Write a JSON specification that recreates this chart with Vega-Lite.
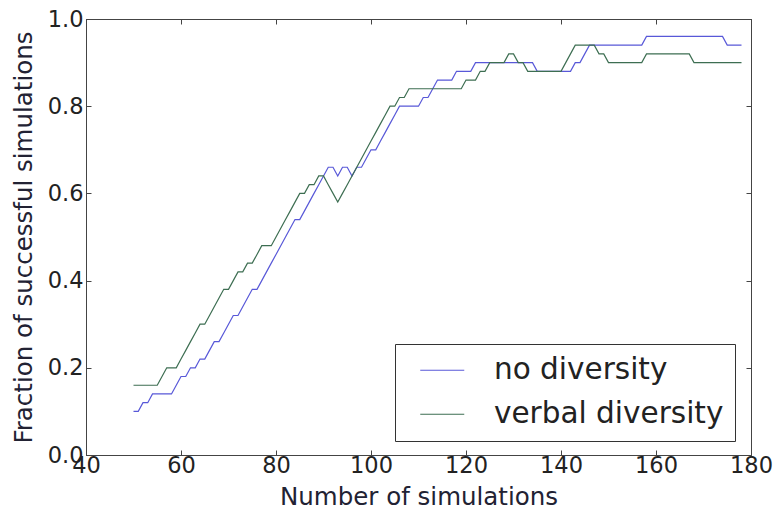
{
  "$schema": "https://vega.github.io/schema/vega-lite/v6.json",
  "width": 665,
  "height": 436,
  "autosize": "none",
  "padding": {"left": 86, "top": 19, "right": 30, "bottom": 55},
  "background": "white",
  "config": {
    "font": "DejaVu Sans",
    "view": {"stroke": "#444444", "strokeWidth": 1},
    "axis": {
      "grid": false,
      "domainColor": "#444444",
      "domainWidth": 1,
      "tickColor": "#444444",
      "tickSize": -5,
      "tickWidth": 1,
      "labelFont": "DejaVu Sans",
      "labelFontSize": 22.5,
      "labelColor": "#222222",
      "titleFont": "DejaVu Sans",
      "titleFontSize": 24.5,
      "titleFontWeight": "normal",
      "titleColor": "#222233"
    }
  },
  "data": {
    "values": [
      {"n": 50, "no diversity": 0.10, "verbal diversity": 0.16},
      {"n": 51, "no diversity": 0.10, "verbal diversity": 0.16},
      {"n": 52, "no diversity": 0.12, "verbal diversity": 0.16},
      {"n": 53, "no diversity": 0.12, "verbal diversity": 0.16},
      {"n": 54, "no diversity": 0.14, "verbal diversity": 0.16},
      {"n": 55, "no diversity": 0.14, "verbal diversity": 0.16},
      {"n": 56, "no diversity": 0.14, "verbal diversity": 0.18},
      {"n": 57, "no diversity": 0.14, "verbal diversity": 0.20},
      {"n": 58, "no diversity": 0.14, "verbal diversity": 0.20},
      {"n": 59, "no diversity": 0.16, "verbal diversity": 0.20},
      {"n": 60, "no diversity": 0.18, "verbal diversity": 0.22},
      {"n": 61, "no diversity": 0.18, "verbal diversity": 0.24},
      {"n": 62, "no diversity": 0.20, "verbal diversity": 0.26},
      {"n": 63, "no diversity": 0.20, "verbal diversity": 0.28},
      {"n": 64, "no diversity": 0.22, "verbal diversity": 0.30},
      {"n": 65, "no diversity": 0.22, "verbal diversity": 0.30},
      {"n": 66, "no diversity": 0.24, "verbal diversity": 0.32},
      {"n": 67, "no diversity": 0.26, "verbal diversity": 0.34},
      {"n": 68, "no diversity": 0.26, "verbal diversity": 0.36},
      {"n": 69, "no diversity": 0.28, "verbal diversity": 0.38},
      {"n": 70, "no diversity": 0.30, "verbal diversity": 0.38},
      {"n": 71, "no diversity": 0.32, "verbal diversity": 0.40},
      {"n": 72, "no diversity": 0.32, "verbal diversity": 0.42},
      {"n": 73, "no diversity": 0.34, "verbal diversity": 0.42},
      {"n": 74, "no diversity": 0.36, "verbal diversity": 0.44},
      {"n": 75, "no diversity": 0.38, "verbal diversity": 0.44},
      {"n": 76, "no diversity": 0.38, "verbal diversity": 0.46},
      {"n": 77, "no diversity": 0.40, "verbal diversity": 0.48},
      {"n": 78, "no diversity": 0.42, "verbal diversity": 0.48},
      {"n": 79, "no diversity": 0.44, "verbal diversity": 0.48},
      {"n": 80, "no diversity": 0.46, "verbal diversity": 0.50},
      {"n": 81, "no diversity": 0.48, "verbal diversity": 0.52},
      {"n": 82, "no diversity": 0.50, "verbal diversity": 0.54},
      {"n": 83, "no diversity": 0.52, "verbal diversity": 0.56},
      {"n": 84, "no diversity": 0.54, "verbal diversity": 0.58},
      {"n": 85, "no diversity": 0.54, "verbal diversity": 0.60},
      {"n": 86, "no diversity": 0.56, "verbal diversity": 0.60},
      {"n": 87, "no diversity": 0.58, "verbal diversity": 0.62},
      {"n": 88, "no diversity": 0.60, "verbal diversity": 0.62},
      {"n": 89, "no diversity": 0.62, "verbal diversity": 0.64},
      {"n": 90, "no diversity": 0.64, "verbal diversity": 0.64},
      {"n": 91, "no diversity": 0.66, "verbal diversity": 0.62},
      {"n": 92, "no diversity": 0.66, "verbal diversity": 0.60},
      {"n": 93, "no diversity": 0.64, "verbal diversity": 0.58},
      {"n": 94, "no diversity": 0.66, "verbal diversity": 0.60},
      {"n": 95, "no diversity": 0.66, "verbal diversity": 0.62},
      {"n": 96, "no diversity": 0.64, "verbal diversity": 0.64},
      {"n": 97, "no diversity": 0.66, "verbal diversity": 0.66},
      {"n": 98, "no diversity": 0.66, "verbal diversity": 0.68},
      {"n": 99, "no diversity": 0.68, "verbal diversity": 0.70},
      {"n": 100, "no diversity": 0.70, "verbal diversity": 0.72},
      {"n": 101, "no diversity": 0.70, "verbal diversity": 0.74},
      {"n": 102, "no diversity": 0.72, "verbal diversity": 0.76},
      {"n": 103, "no diversity": 0.74, "verbal diversity": 0.78},
      {"n": 104, "no diversity": 0.76, "verbal diversity": 0.80},
      {"n": 105, "no diversity": 0.78, "verbal diversity": 0.80},
      {"n": 106, "no diversity": 0.80, "verbal diversity": 0.82},
      {"n": 107, "no diversity": 0.80, "verbal diversity": 0.82},
      {"n": 108, "no diversity": 0.80, "verbal diversity": 0.84},
      {"n": 109, "no diversity": 0.80, "verbal diversity": 0.84},
      {"n": 110, "no diversity": 0.80, "verbal diversity": 0.84},
      {"n": 111, "no diversity": 0.82, "verbal diversity": 0.84},
      {"n": 112, "no diversity": 0.82, "verbal diversity": 0.84},
      {"n": 113, "no diversity": 0.84, "verbal diversity": 0.84},
      {"n": 114, "no diversity": 0.86, "verbal diversity": 0.84},
      {"n": 115, "no diversity": 0.86, "verbal diversity": 0.84},
      {"n": 116, "no diversity": 0.86, "verbal diversity": 0.84},
      {"n": 117, "no diversity": 0.86, "verbal diversity": 0.84},
      {"n": 118, "no diversity": 0.88, "verbal diversity": 0.84},
      {"n": 119, "no diversity": 0.88, "verbal diversity": 0.84},
      {"n": 120, "no diversity": 0.88, "verbal diversity": 0.86},
      {"n": 121, "no diversity": 0.88, "verbal diversity": 0.86},
      {"n": 122, "no diversity": 0.90, "verbal diversity": 0.86},
      {"n": 123, "no diversity": 0.90, "verbal diversity": 0.88},
      {"n": 124, "no diversity": 0.90, "verbal diversity": 0.88},
      {"n": 125, "no diversity": 0.90, "verbal diversity": 0.90},
      {"n": 126, "no diversity": 0.90, "verbal diversity": 0.90},
      {"n": 127, "no diversity": 0.90, "verbal diversity": 0.90},
      {"n": 128, "no diversity": 0.90, "verbal diversity": 0.90},
      {"n": 129, "no diversity": 0.90, "verbal diversity": 0.92},
      {"n": 130, "no diversity": 0.90, "verbal diversity": 0.92},
      {"n": 131, "no diversity": 0.90, "verbal diversity": 0.90},
      {"n": 132, "no diversity": 0.90, "verbal diversity": 0.90},
      {"n": 133, "no diversity": 0.90, "verbal diversity": 0.88},
      {"n": 134, "no diversity": 0.90, "verbal diversity": 0.88},
      {"n": 135, "no diversity": 0.88, "verbal diversity": 0.88},
      {"n": 136, "no diversity": 0.88, "verbal diversity": 0.88},
      {"n": 137, "no diversity": 0.88, "verbal diversity": 0.88},
      {"n": 138, "no diversity": 0.88, "verbal diversity": 0.88},
      {"n": 139, "no diversity": 0.88, "verbal diversity": 0.88},
      {"n": 140, "no diversity": 0.88, "verbal diversity": 0.88},
      {"n": 141, "no diversity": 0.88, "verbal diversity": 0.90},
      {"n": 142, "no diversity": 0.88, "verbal diversity": 0.92},
      {"n": 143, "no diversity": 0.90, "verbal diversity": 0.94},
      {"n": 144, "no diversity": 0.90, "verbal diversity": 0.94},
      {"n": 145, "no diversity": 0.92, "verbal diversity": 0.94},
      {"n": 146, "no diversity": 0.94, "verbal diversity": 0.94},
      {"n": 147, "no diversity": 0.94, "verbal diversity": 0.94},
      {"n": 148, "no diversity": 0.94, "verbal diversity": 0.92},
      {"n": 149, "no diversity": 0.94, "verbal diversity": 0.92},
      {"n": 150, "no diversity": 0.94, "verbal diversity": 0.90},
      {"n": 151, "no diversity": 0.94, "verbal diversity": 0.90},
      {"n": 152, "no diversity": 0.94, "verbal diversity": 0.90},
      {"n": 153, "no diversity": 0.94, "verbal diversity": 0.90},
      {"n": 154, "no diversity": 0.94, "verbal diversity": 0.90},
      {"n": 155, "no diversity": 0.94, "verbal diversity": 0.90},
      {"n": 156, "no diversity": 0.94, "verbal diversity": 0.90},
      {"n": 157, "no diversity": 0.94, "verbal diversity": 0.90},
      {"n": 158, "no diversity": 0.96, "verbal diversity": 0.92},
      {"n": 159, "no diversity": 0.96, "verbal diversity": 0.92},
      {"n": 160, "no diversity": 0.96, "verbal diversity": 0.92},
      {"n": 161, "no diversity": 0.96, "verbal diversity": 0.92},
      {"n": 162, "no diversity": 0.96, "verbal diversity": 0.92},
      {"n": 163, "no diversity": 0.96, "verbal diversity": 0.92},
      {"n": 164, "no diversity": 0.96, "verbal diversity": 0.92},
      {"n": 165, "no diversity": 0.96, "verbal diversity": 0.92},
      {"n": 166, "no diversity": 0.96, "verbal diversity": 0.92},
      {"n": 167, "no diversity": 0.96, "verbal diversity": 0.92},
      {"n": 168, "no diversity": 0.96, "verbal diversity": 0.90},
      {"n": 169, "no diversity": 0.96, "verbal diversity": 0.90},
      {"n": 170, "no diversity": 0.96, "verbal diversity": 0.90},
      {"n": 171, "no diversity": 0.96, "verbal diversity": 0.90},
      {"n": 172, "no diversity": 0.96, "verbal diversity": 0.90},
      {"n": 173, "no diversity": 0.96, "verbal diversity": 0.90},
      {"n": 174, "no diversity": 0.96, "verbal diversity": 0.90},
      {"n": 175, "no diversity": 0.94, "verbal diversity": 0.90},
      {"n": 176, "no diversity": 0.94, "verbal diversity": 0.90},
      {"n": 177, "no diversity": 0.94, "verbal diversity": 0.90},
      {"n": 178, "no diversity": 0.94, "verbal diversity": 0.90}
    ]
  },
  "transform": [
    {"fold": ["no diversity", "verbal diversity"], "as": ["series", "fraction"]}
  ],
  "layer": [
    {
      "mark": {"type": "line", "strokeWidth": 1.2, "interpolate": "linear"},
      "encoding": {
        "x": {
          "field": "n", "type": "quantitative",
          "scale": {"domain": [40, 180], "nice": false, "zero": false},
          "axis": {"orient": "bottom", "values": [40, 60, 80, 100, 120, 140, 160, 180], "title": "Number of simulations", "labelPadding": 4, "titlePadding": 9, "labelFlush": false}
        },
        "y": {
          "field": "fraction", "type": "quantitative",
          "scale": {"domain": [0, 1], "nice": false},
          "axis": {"orient": "left", "values": [0, 0.2, 0.4, 0.6, 0.8, 1.0], "format": ".1f", "title": "Fraction of successful simulations", "labelPadding": 8, "titlePadding": 11, "labelFlush": false}
        },
        "color": {
          "field": "series", "type": "nominal",
          "scale": {"domain": ["no diversity", "verbal diversity"], "range": ["#5858d8", "#3d6e52"]},
          "legend": {
            "title": null,
            "orient": "none",
            "legendX": 309,
            "legendY": 325,
            "direction": "vertical",
            "strokeColor": "#333333",
            "fillColor": "#ffffff",
            "padding": 11.5,
            "rowPadding": 13,
            "symbolType": "M-2.2,0H2.2",
            "symbolSize": 400,
            "symbolStrokeWidth": 1.2,
            "symbolOffset": 21,
            "labelOffset": 37,
            "labelFont": "DejaVu Sans",
            "labelFontSize": 29.5,
            "labelColor": "#222222",
            "labelLimit": 400
          }
        }
      }
    },
    {
      "mark": {"type": "line", "strokeOpacity": 0},
      "encoding": {
        "x": {
          "field": "n", "type": "quantitative",
          "scale": {"domain": [40, 180], "nice": false, "zero": false},
          "axis": {"orient": "top", "values": [40, 60, 80, 100, 120, 140, 160, 180], "labels": false, "title": null}
        },
        "y": {
          "field": "fraction", "type": "quantitative",
          "scale": {"domain": [0, 1], "nice": false},
          "axis": {"orient": "right", "values": [0, 0.2, 0.4, 0.6, 0.8, 1.0], "labels": false, "title": null}
        },
        "detail": {"field": "series", "type": "nominal"}
      }
    }
  ],
  "resolve": {"axis": {"x": "independent", "y": "independent"}}
}
